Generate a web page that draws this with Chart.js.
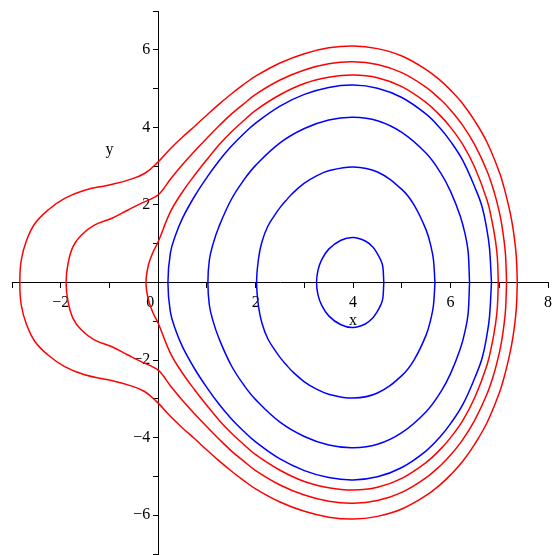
<!DOCTYPE html>
<html>
<head>
  <title>Contour curves</title>
  <script src="https://cdn.jsdelivr.net/npm/chart.js@4"></script>
  <style>
    html, body { margin: 0; padding: 0; background: #fff; }
    #box { width: 555px; height: 555px; }
    canvas { display: block; }
  </style>
</head>
<body>
<div id="box">
  <canvas id="myChart" width="555" height="555"></canvas>
</div>

<script>
  // axis ranges and tick labels
  const xRange = [-3, 8];
  const yRange = [-7, 7];
  const xLabelValues = [-2, 0, 2, 4, 6, 8];
  const xLabelTexts = ['\u22122', '0\u2003', '2', '4', '6', '8'];
  const yLabelValues = [-6, -4, -2, 2, 4, 6];
  const yLabelTexts = ['\u22126\u2002', '\u22124\u2002', '\u22122\u2002', '2\u2002', '4\u2002', '6\u2002'];
  const xTitlePos = [4, -1.0];
  const yTitlePos = [-1.0, 3.41];

  // blue curves (inner to outer), each one a closed loop
  const b1X = [4.63, 4.61, 4.57, 4.5, 4.4, 4.25, 4.0, 3.75, 3.5, 3.35, 3.28, 3.25,
               3.28, 3.35, 3.5, 3.75, 4.0, 4.25, 4.4, 4.5, 4.57, 4.61, 4.63];
  const b1Y = [0, 0.41, 0.57, 0.74, 0.92, 1.07, 1.16, 1.09, 0.86, 0.57, 0.32, 0,
               -0.32, -0.57, -0.86, -1.09, -1.16, -1.07, -0.92, -0.74, -0.57, -0.41, 0];

  const b2X = [5.68, 5.65, 5.6, 5.5, 5.25, 5.0, 4.5, 4.0, 3.5, 3.25, 3.0, 2.75, 2.62, 2.5, 2.42, 2.25, 2.13, 2.06, 2.02,
               2.06, 2.13, 2.25, 2.42, 2.5, 2.62, 2.75, 3.0, 3.25, 3.5, 4.0, 4.5, 5.0, 5.25, 5.5, 5.6, 5.65, 5.68];
  const b2Y = [0, 0.58, 0.92, 1.35, 2.0, 2.4, 2.85, 2.98, 2.88, 2.75, 2.56, 2.29, 2.11, 1.93, 1.79, 1.45, 1.05, 0.62, 0,
               -0.62, -1.05, -1.45, -1.79, -1.93, -2.11, -2.29, -2.56, -2.75, -2.88, -2.98, -2.85, -2.4, -2.0, -1.35, -0.92, -0.58, 0];

  const b3X = [6.39, 6.36, 6.3, 6.2, 6.0, 5.8, 5.5, 5.0, 4.5, 4.0, 3.5, 3.0, 2.5, 2.0, 1.75, 1.5, 1.25, 1.12, 1.05, 1.02,
               1.05, 1.12, 1.25, 1.5, 1.75, 2.0, 2.5, 3.0, 3.5, 4.0, 4.5, 5.0, 5.5, 5.8, 6.0, 6.2, 6.3, 6.36, 6.39];
  const b3Y = [0, 0.81, 1.24, 1.71, 2.35, 2.82, 3.33, 3.87, 4.17, 4.26, 4.19, 3.97, 3.6, 3.02, 2.63, 2.14, 1.45, 0.97, 0.58, 0,
               -0.58, -0.97, -1.45, -2.14, -2.63, -3.02, -3.6, -3.97, -4.19, -4.26, -4.17, -3.87, -3.33, -2.82, -2.35, -1.71, -1.24, -0.81, 0];

  const b4X = [6.84, 6.8, 6.75, 6.65, 6.5, 6.25, 6.0, 5.8, 5.5, 5.0, 4.5, 4.0, 3.5, 3.0, 2.5, 2.0, 1.75, 1.5, 1.25, 1.0, 0.75, 0.5, 0.35, 0.25, 0.2,
               0.25, 0.35, 0.5, 0.75, 1.0, 1.25, 1.5, 1.75, 2.0, 2.5, 3.0, 3.5, 4.0, 4.5, 5.0, 5.5, 5.8, 6.0, 6.25, 6.5, 6.65, 6.75, 6.8, 6.84];
  const b4Y = [0, 0.88, 1.33, 1.94, 2.45, 3.15, 3.64, 3.96, 4.34, 4.77, 5.01, 5.09, 5.03, 4.85, 4.55, 4.11, 3.83, 3.51, 3.14, 2.71, 2.23, 1.66, 1.2, 0.76, 0,
               -0.76, -1.2, -1.66, -2.23, -2.71, -3.14, -3.51, -3.83, -4.11, -4.55, -4.85, -5.03, -5.09, -5.01, -4.77, -4.34, -3.96, -3.64, -3.15, -2.45, -1.94, -1.33, -0.88, 0];

  // red curves (inner to outer)
  const r1X = [6.98, 6.96, 6.92, 6.85, 6.75, 6.5, 6.25, 6.0, 5.8, 5.5, 5.0, 4.5, 4.0, 3.5, 3.0, 2.5, 2.0, 1.75, 1.5, 1.25, 1.0, 0.75, 0.5, 0.25, 0, -0.1, -0.2, -0.25,
               -0.2, -0.1, 0, 0.25, 0.5, 0.75, 1.0, 1.25, 1.5, 1.75, 2.0, 2.5, 3.0, 3.5, 4.0, 4.5, 5.0, 5.5, 5.8, 6.0, 6.25, 6.5, 6.75, 6.85, 6.92, 6.96, 6.98];
  const r1Y = [0, 0.65, 1.09, 1.59, 2.12, 2.96, 3.56, 4.0, 4.29, 4.64, 5.05, 5.28, 5.35, 5.29, 5.13, 4.84, 4.44, 4.17, 3.88, 3.55, 3.17, 2.77, 2.34, 1.82, 1.05, 0.8, 0.45, 0,
               -0.45, -0.8, -1.05, -1.82, -2.34, -2.77, -3.17, -3.55, -3.88, -4.17, -4.44, -4.84, -5.13, -5.29, -5.35, -5.28, -5.05, -4.64, -4.29, -4.0, -3.56, -2.96, -2.12, -1.59, -1.09, -0.65, 0];

  const r2X = [7.15, 7.13, 7.1, 7.05, 7.0, 6.9, 6.75, 6.5, 6.25, 6.0, 5.8, 5.5, 5.0, 4.5, 4.0, 3.5, 3.0, 2.5, 2.0, 1.75, 1.5, 1.25, 1.0, 0.75, 0.5, 0.25, 0.1, 0,
               -0.15, -0.35, -0.62, -0.96, -1.31, -1.58, -1.75, -1.85, -1.89,
               -1.85, -1.75, -1.58, -1.31, -0.96, -0.62, -0.35, -0.15,
               0, 0.1, 0.25, 0.5, 0.75, 1.0, 1.25, 1.5, 1.75, 2.0, 2.5, 3.0, 3.5, 4.0, 4.5, 5.0, 5.5, 5.8, 6.0, 6.25, 6.5, 6.75, 6.9, 7.0, 7.05, 7.1, 7.13, 7.15];
  const r2Y = [0, 0.68, 1.06, 1.5, 1.82, 2.31, 2.87, 3.54, 4.05, 4.45, 4.71, 5.03, 5.41, 5.62, 5.69, 5.64, 5.48, 5.22, 4.85, 4.6, 4.34, 4.04, 3.72, 3.39, 3.04, 2.66, 2.4, 2.26,
               2.15, 2.04, 1.87, 1.65, 1.48, 1.22, 0.92, 0.49, 0,
               -0.49, -0.92, -1.22, -1.48, -1.65, -1.87, -2.04, -2.15,
               -2.26, -2.4, -2.66, -3.04, -3.39, -3.72, -4.04, -4.34, -4.6, -4.85, -5.22, -5.48, -5.64, -5.69, -5.62, -5.41, -5.03, -4.71, -4.45, -4.05, -3.54, -2.87, -2.31, -1.82, -1.5, -1.06, -0.68, 0];

  const r3X = [7.37, 7.35, 7.3, 7.25, 7.2, 7.1, 7.0, 6.75, 6.5, 6.25, 6.0, 5.8, 5.5, 5.0, 4.5, 4.0, 3.5, 3.0, 2.5, 2.0, 1.75, 1.5, 1.25, 1.0, 0.75, 0.5, 0.25, 0,
               -0.28, -0.62, -1.03, -1.51, -1.92, -2.26, -2.53, -2.7, -2.81, -2.84,
               -2.81, -2.7, -2.53, -2.26, -1.92, -1.51, -1.03, -0.62, -0.28,
               0, 0.25, 0.5, 0.75, 1.0, 1.25, 1.5, 1.75, 2.0, 2.5, 3.0, 3.5, 4.0, 4.5, 5.0, 5.5, 5.8, 6.0, 6.25, 6.5, 6.75, 7.0, 7.1, 7.2, 7.25, 7.3, 7.35, 7.37];
  const r3Y = [0, 0.66, 1.24, 1.63, 1.93, 2.44, 2.85, 3.61, 4.16, 4.61, 4.96, 5.2, 5.49, 5.84, 6.03, 6.1, 6.05, 5.9, 5.66, 5.32, 5.1, 4.86, 4.6, 4.32, 4.03, 3.75, 3.45, 3.11,
               2.81, 2.64, 2.51, 2.38, 2.17, 1.87, 1.52, 1.09, 0.58, 0,
               -0.58, -1.09, -1.52, -1.87, -2.17, -2.38, -2.51, -2.64, -2.81,
               -3.11, -3.45, -3.75, -4.03, -4.32, -4.6, -4.86, -5.1, -5.32, -5.66, -5.9, -6.05, -6.1, -6.03, -5.84, -5.49, -5.2, -4.96, -4.61, -4.16, -3.61, -2.85, -2.44, -1.93, -1.63, -1.24, -0.66, 0];

  const blue = 'rgb(0, 0, 255)';
  const red = 'rgb(255, 0, 0)';

  function curve(xs, ys, color) {
    return {
      data: xs.map((x, i) => ({ x: x, y: ys[i] })),
      borderColor: color,
      borderWidth: 1.5,
      pointRadius: 0,
      fill: false,
      tension: 0.4
    };
  }

  const serif = '"Liberation Serif", "Times New Roman", serif';

  const axisTitles = {
    id: 'axisTitles',
    afterDraw(chart) {
      const ctx = chart.ctx;
      const sx = chart.scales.x, sy = chart.scales.y;
      ctx.save();
      ctx.font = '16px ' + serif;
      ctx.fillStyle = '#000';
      ctx.textAlign = 'center';
      ctx.textBaseline = 'middle';
      ctx.fillText('x', sx.getPixelForValue(xTitlePos[0]), sy.getPixelForValue(xTitlePos[1]));
      ctx.fillText('y', sx.getPixelForValue(yTitlePos[0]), sy.getPixelForValue(yTitlePos[1]));
      ctx.restore();
    }
  };

  const noPad = s => { s.paddingTop = 0; s.paddingBottom = 0; s.paddingLeft = 0; s.paddingRight = 0; };

  new Chart(document.getElementById('myChart').getContext('2d'), {
    type: 'line',
    data: {
      datasets: [
        curve(b1X, b1Y, blue),
        curve(b2X, b2Y, blue),
        curve(b3X, b3Y, blue),
        curve(b4X, b4Y, blue),
        curve(r1X, r1Y, red),
        curve(r2X, r2Y, red),
        curve(r3X, r3Y, red)
      ]
    },
    options: {
      responsive: false,
      animation: false,
      devicePixelRatio: 1,
      elements: { line: { tension: 0.4 }, point: { radius: 0 } },
      layout: { padding: { left: 12, right: 7, top: 11, bottom: 1 } },
      plugins: { legend: { display: false }, tooltip: { enabled: false } },
      scales: {
        x: {
          type: 'linear',
          min: xRange[0],
          max: xRange[1],
          position: { y: 0 },
          afterFit: noPad,
          border: { display: true, color: '#000', width: 1 },
          grid: { drawOnChartArea: false, drawTicks: true, tickLength: 5, color: '#000' },
          ticks: {
            stepSize: 1,
            autoSkip: false,
            maxRotation: 0,
            padding: 6,
            color: '#000',
            font: { family: serif, size: 16 },
            callback: v => { const i = xLabelValues.indexOf(v); return i >= 0 ? xLabelTexts[i] : ''; }
          }
        },
        y: {
          type: 'linear',
          min: yRange[0],
          max: yRange[1],
          position: { x: 0 },
          afterFit: noPad,
          border: { display: true, color: '#000', width: 1 },
          grid: { drawOnChartArea: false, drawTicks: true, tickLength: 5, color: '#000' },
          ticks: {
            stepSize: 1,
            autoSkip: false,
            padding: 5,
            color: '#000',
            font: { family: serif, size: 16 },
            callback: v => { const i = yLabelValues.indexOf(v); return i >= 0 ? yLabelTexts[i] : ''; }
          }
        }
      }
    },
    plugins: [axisTitles]
  });
</script>
</body>
</html>
